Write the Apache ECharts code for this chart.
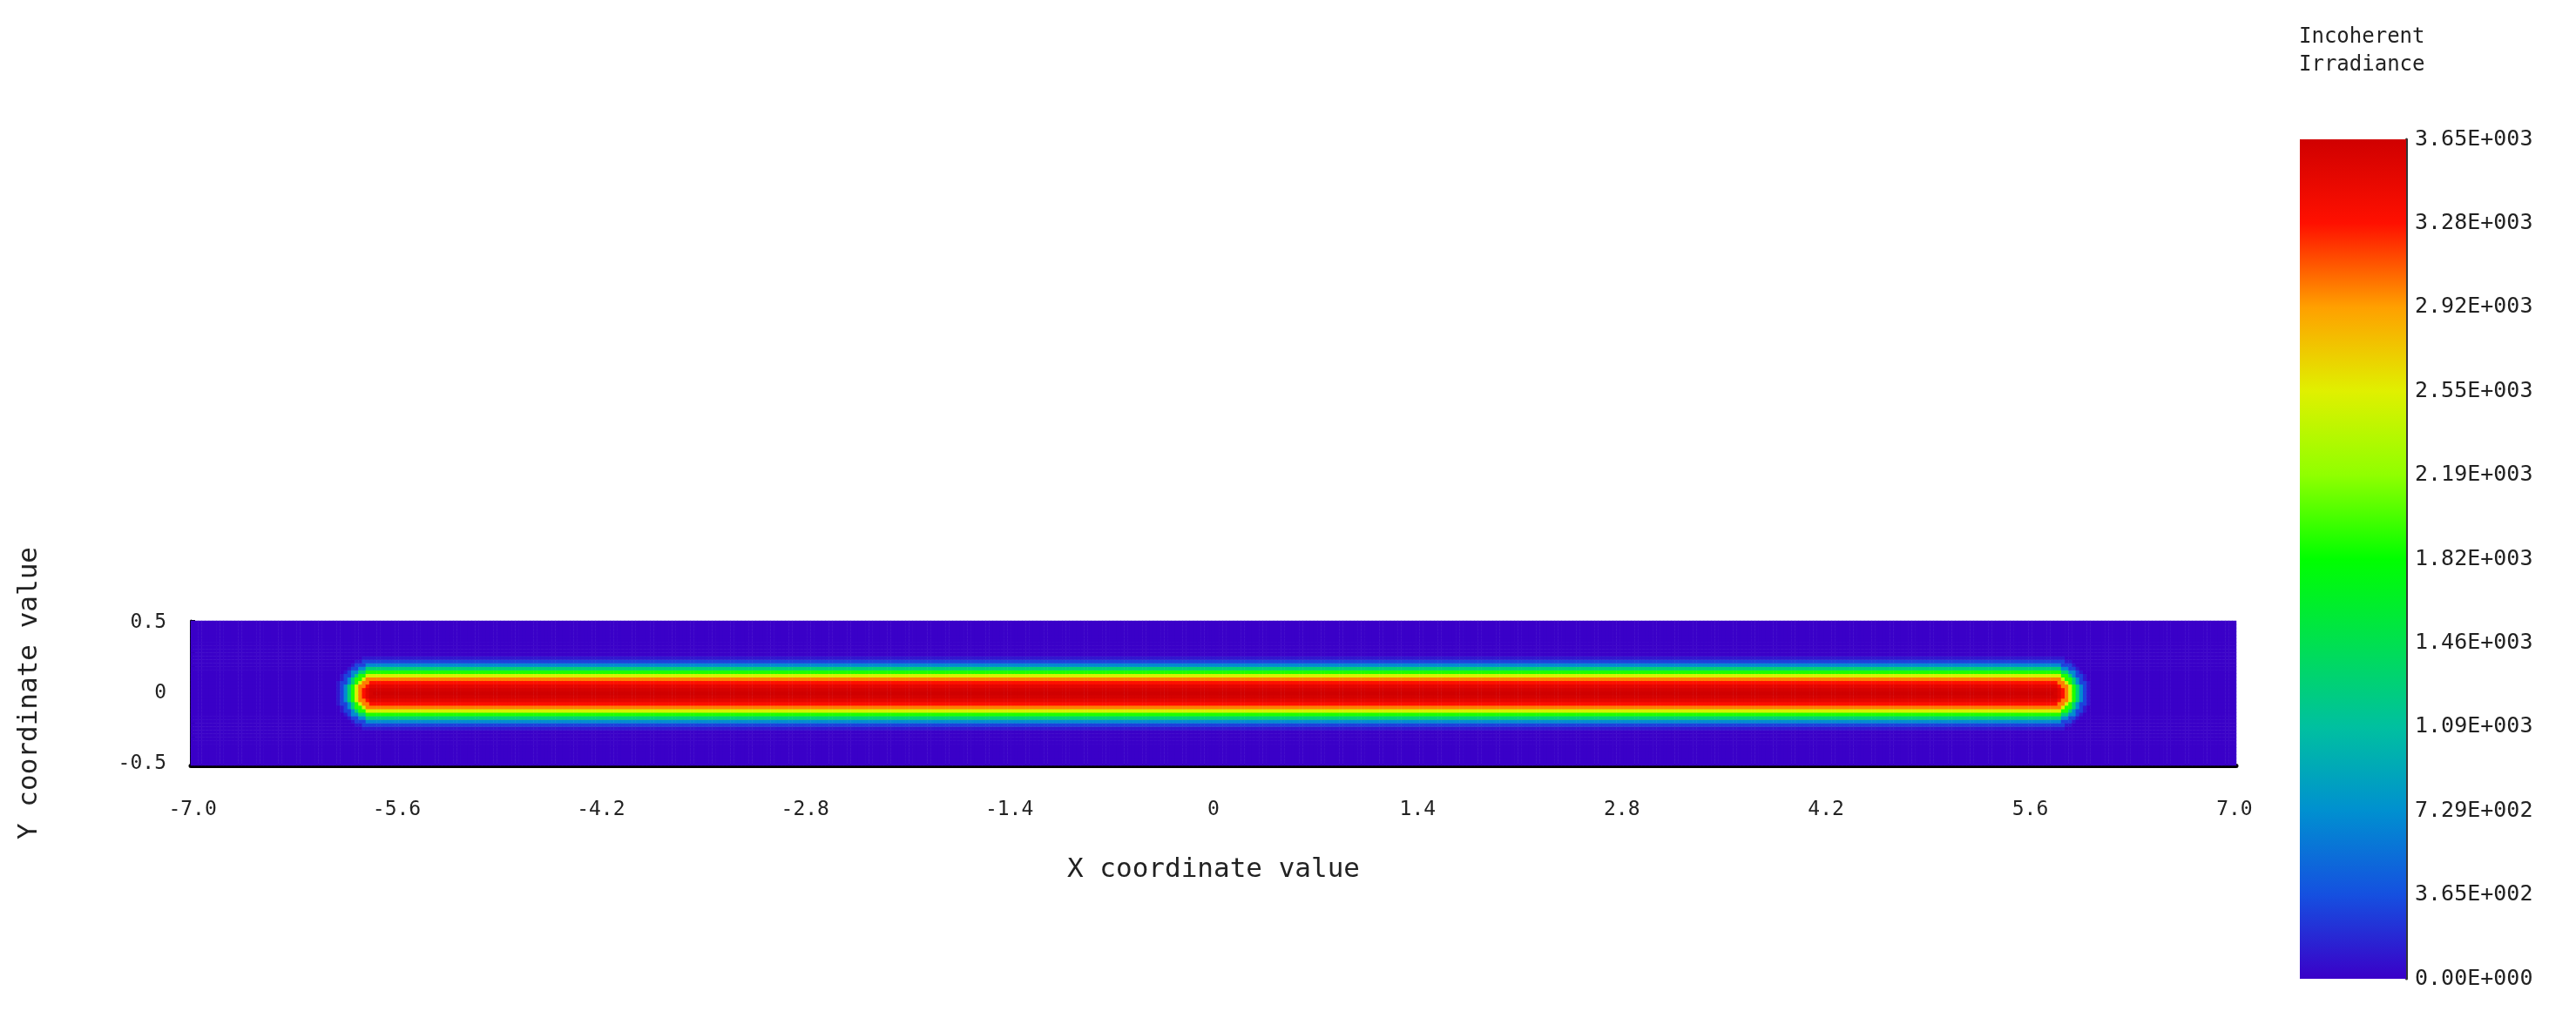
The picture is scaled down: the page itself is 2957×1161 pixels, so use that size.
<!DOCTYPE html>
<html>
<head>
<meta charset="utf-8">
<script src="https://cdn.jsdelivr.net/npm/echarts@6/dist/echarts.min.js"></script>
<style>html,body{margin:0;padding:0;background:#fff}#main{width:2957px;height:1161px}</style>
</head>
<body>
<div id="main"></div>
<script>
// grid steps and extents
var xMin = -7.0, xMax = 7.0, yMin = -0.5, yMax = 0.5, step = 0.025;
var barHalfLength = 5.75;
// irradiance, by distance from the line centre (step 0.025)
var crossProfile = [3646, 3600, 3500, 3300, 3000, 2500, 1900, 1300, 700, 300, 100, 0];
var colorStops = ['#3a00c8', '#1550e0', '#0090d0', '#00c0a0', '#00e050', '#00ff00',
                  '#90ff00', '#e0f000', '#ffa000', '#ff1000', '#d00000'];
var maxVal = 3646;

var xCats = [], yCats = [], cells = [];
var nx = Math.round((xMax - xMin) / step), ny = Math.round((yMax - yMin) / step);
for (var i = 0; i <= nx; i++) xCats.push((xMin + i * step).toFixed(3));
for (var j = 0; j <= ny; j++) yCats.push((yMin + j * step).toFixed(3));
for (i = 0; i <= nx; i++) {
    var x = xMin + i * step;
    var dx = Math.max(0, Math.abs(x) - barHalfLength) / step;
    for (j = 0; j <= ny; j++) {
        var dy = Math.abs(yMin + j * step) / step;
        var d = Math.round(Math.sqrt(dx * dx + dy * dy));
        var v = d < crossProfile.length ? crossProfile[d] : 0;
        cells.push([i, j, v]);
    }
}

function sci(v) {
    var s = v.toExponential(2).split('e');
    var e = parseInt(s[1], 10);
    var es = (e < 0 ? '-' : '+') + ('000' + Math.abs(e)).slice(-3);
    return s[0] + 'E' + es;
}
function tickFmt(v) { var n = parseFloat(v); return Math.abs(n) < 1e-9 ? '0' : n.toFixed(1); }

// colour bar gradient, bottom (0) to top (max)
var gradStops = colorStops.map(function (c, k) {
    return { offset: 1 - k / (colorStops.length - 1), color: c };
});

var font = 'DejaVu Sans Mono';
var chart = echarts.init(document.getElementById('main'));
chart.setOption({
    animation: false,
    textStyle: { fontFamily: font },
    title: {
        text: 'Incoherent\nIrradiance', left: 2634, top: 22,
        textStyle: { fontFamily: font, fontSize: 24, fontWeight: 'normal', color: '#222', lineHeight: 32 }
    },
    grid: [
        { left: 219, right: 390, top: 713, height: 166 },
        { left: 2640, width: 122, top: 160, height: 964 }
    ],
    xAxis: [
        {
            type: 'category', data: xCats, gridIndex: 0,
            name: 'X coordinate value', nameLocation: 'middle', nameGap: 104,
            nameTextStyle: { fontFamily: font, fontSize: 31, color: '#222' },
            axisLine: { lineStyle: { color: '#000', width: 5 } },
            axisTick: { show: false },
            axisLabel: { interval: 55, margin: 40, fontSize: 23, color: '#222', formatter: tickFmt },
            splitLine: { show: false }
        },
        { type: 'category', data: [''], gridIndex: 1, show: false }
    ],
    yAxis: [
        {
            type: 'category', data: yCats, gridIndex: 0,
            name: 'Y coordinate value', nameLocation: 'middle', nameGap: 170,
            nameTextStyle: { fontFamily: font, fontSize: 31, color: '#222' },
            axisLine: { lineStyle: { color: '#000', width: 3 } },
            axisTick: { show: true, interval: 3, inside: true, length: 5, lineStyle: { color: '#000', width: 2 } },
            axisLabel: { interval: 19, margin: 28, fontSize: 23, color: '#222', formatter: tickFmt },
            splitLine: { show: false }
        },
        {
            type: 'value', gridIndex: 1, position: 'right', min: 0, max: maxVal, interval: maxVal / 10,
            axisLine: { show: true, lineStyle: { color: '#333', width: 3 } },
            axisTick: { show: false },
            splitLine: { show: false },
            axisLabel: { fontSize: 25, color: '#222', margin: 10, formatter: function (v) { return sci(v); } }
        }
    ],
    visualMap: {
        type: 'continuous', min: 0, max: maxVal, seriesIndex: 0, show: false,
        inRange: { color: colorStops }
    },
    series: [
        {
            type: 'heatmap', data: cells, xAxisIndex: 0, yAxisIndex: 0,
            progressive: 0, itemStyle: { borderWidth: 0 }, emphasis: { disabled: true }
        },
        {
            type: 'bar', data: [maxVal], xAxisIndex: 1, yAxisIndex: 1, barWidth: '100%',
            silent: true,
            itemStyle: { color: new echarts.graphic.LinearGradient(0, 0, 0, 1, gradStops) }
        }
    ]
});
</script>
</body>
</html>
